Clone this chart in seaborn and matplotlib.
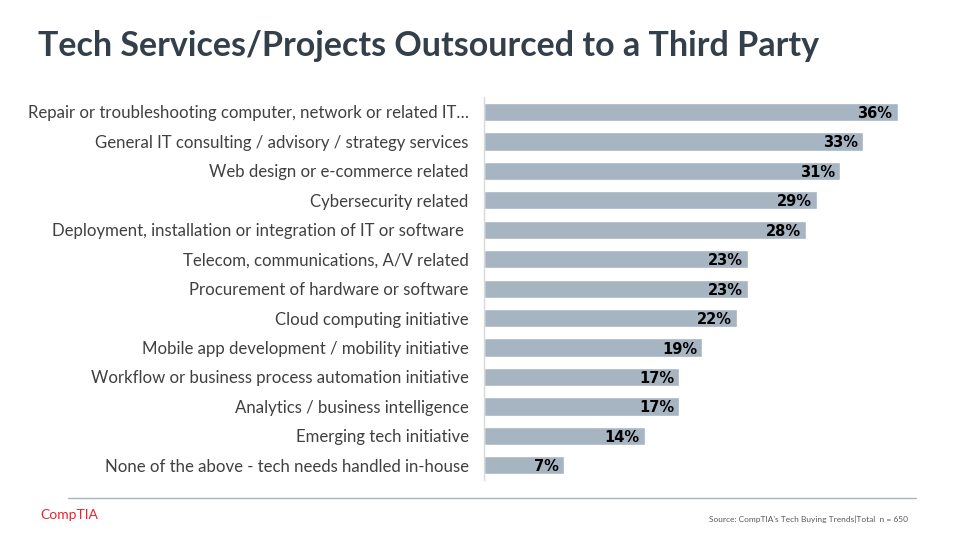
import matplotlib
matplotlib.use('Agg')
import matplotlib.pyplot as plt
import seaborn as sns
import pandas as pd

# Chart data
categories = [
    'Repair or troubleshooting computer, network or related IT…',
    'General IT consulting / advisory / strategy services',
    'Web design or e-commerce related',
    'Cybersecurity related',
    'Deployment, installation or integration of IT or software ',
    'Telecom, communications, A/V related',
    'Procurement of hardware or software',
    'Cloud computing initiative',
    'Mobile app development / mobility initiative',
    'Workflow or business process automation initiative',
    'Analytics / business intelligence',
    'Emerging tech initiative',
    'None of the above - tech needs handled in-house',
]
values = [36, 33, 31, 29, 28, 23, 23, 22, 19, 17, 17, 14, 7]

df = pd.DataFrame({'category': categories, 'value': values})

sns.set_style('white')
plt.rcParams['font.family'] = ['Lato', 'DejaVu Sans']

fig = plt.figure(figsize=(9.6, 5.4), dpi=100)
ax = fig.add_axes([0.504, 0.111, 0.455, 0.709])

sns.barplot(data=df, x='value', y='category', color='#A7B4C2', width=0.62,
            saturation=1, ax=ax)

# value labels inside the bar ends
for i, v in enumerate(values):
    ax.text(v - 0.45, i + 0.05, f'{v}%', ha='right', va='center', fontsize=10.5,
            fontweight='bold', color='black', family='DejaVu Sans')

ax.set_xlim(0, 38)
ax.set_xlabel('')
ax.set_ylabel('')
ax.set_xticks([])
ax.tick_params(axis='y', length=0, pad=11, labelsize=12.1, labelcolor='#404040')
for s in ['top', 'right', 'bottom']:
    ax.spines[s].set_visible(False)
ax.spines['left'].set_color('#D9D9D9')
ax.spines['left'].set_linewidth(1)

fig.text(0.04, 0.915, 'Tech Services/Projects Outsourced to a Third Party',
         fontsize=24.5, fontweight='bold', color='#333F4B', va='center')

fig.add_artist(plt.Line2D([0.071, 0.954], [0.078, 0.078], color='#A7B4C2', lw=1))
fig.text(0.042, 0.046, 'CompTIA', fontsize=10, color='#E8242B', va='center')
fig.text(0.946, 0.038, "Source: CompTIA's Tech Buying Trends|Total  n = 650",
         fontsize=6, color='#595959', ha='right', va='center')

fig.savefig('out.png', dpi=100)
